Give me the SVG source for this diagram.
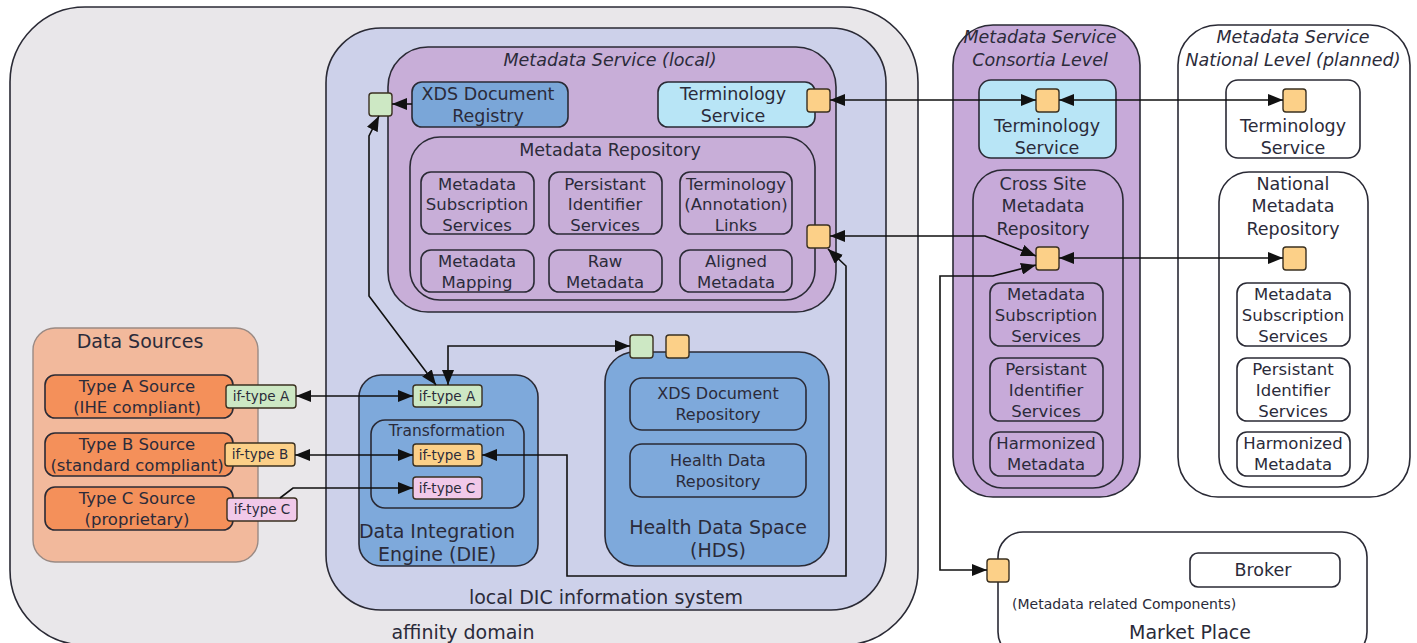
<svg xmlns="http://www.w3.org/2000/svg" width="1417" height="643" viewBox="0 0 1417 643">
<defs>
<marker id="ah" viewBox="0 0 15 12" refX="15" refY="6" markerWidth="15" markerHeight="12" markerUnits="userSpaceOnUse" orient="auto-start-reverse"><path d="M0,0 L15,6 L0,12 z" fill="#111"/></marker>
<style>
.b{stroke:#2a2a35;stroke-width:1.6}
.t{font-family:"DejaVu Sans",sans-serif;fill:#2b2b3a;text-anchor:middle}
.it{font-style:italic}
.c{fill:none;stroke:#111;stroke-width:1.6}
.port{stroke:#3a3020;stroke-width:1.4}
.or{fill:#fcd088}
.gr{fill:#cde8c4}
.pk{fill:#f1c9e9}
.item{fill:none}
.s{font-size:16.5px}
.m{font-size:17.5px}
.l{font-size:19px}
.p{font-size:13.5px}
</style>
</defs>

<g id="affinity-domain">
<rect class="b" x="10" y="7" width="908" height="638" rx="75" fill="#e9e7ea"/>
<text class="t l" x="463" y="639">affinity domain</text>
</g>

<g id="local-dic">
<rect class="b" x="326" y="28" width="560" height="582" rx="55" fill="#cdd1ea"/>
<text class="t l" x="606" y="604">local DIC information system</text>
</g>

<g id="metadata-service-local">
<rect class="b" x="388" y="47" width="448" height="265" rx="40" fill="#c8aed8"/>
<text class="t it m" x="610" y="66">Metadata Service (local)</text>
</g>

<g id="xds-registry">
<rect class="b" x="412" y="82" width="156" height="45" rx="10" fill="#7aa6d8"/>
<text class="t m" x="488" y="100">XDS Document</text>
<text class="t m" x="488" y="122">Registry</text>
</g>
<g id="xds-registry-port"><rect class="port gr" x="369" y="93" width="23" height="23" rx="3"/></g>

<g id="terminology-local">
<rect class="b" x="658" y="82" width="157" height="45" rx="10" fill="#b8e5f6"/>
<text class="t m" x="733" y="100">Terminology</text>
<text class="t m" x="733" y="122">Service</text>
</g>
<g id="terminology-local-port"><rect class="port or" x="807" y="89" width="23" height="23" rx="3"/></g>

<g id="metadata-repository">
<rect class="b" x="410" y="137" width="405" height="163" rx="30" fill="#c8aed8"/>
<text class="t m" x="610" y="156">Metadata Repository</text>
</g>
<g id="mr-subscription">
<rect class="b item" x="421" y="172" width="113" height="62" rx="10"/>
<text class="t s" x="477" y="190">Metadata</text>
<text class="t s" x="477" y="210">Subscription</text>
<text class="t s" x="477" y="231">Services</text>
</g>
<g id="mr-persistant">
<rect class="b item" x="549" y="172" width="113" height="62" rx="10"/>
<text class="t s" x="605" y="190">Persistant</text>
<text class="t s" x="605" y="210">Identifier</text>
<text class="t s" x="605" y="231">Services</text>
</g>
<g id="mr-terminology-links">
<rect class="b item" x="680" y="172" width="112" height="62" rx="10"/>
<text class="t s" x="736" y="190">Terminology</text>
<text class="t s" x="736" y="210">(Annotation)</text>
<text class="t s" x="736" y="231">Links</text>
</g>
<g id="mr-mapping">
<rect class="b item" x="421" y="250" width="113" height="42" rx="10"/>
<text class="t s" x="477" y="267">Metadata</text>
<text class="t s" x="477" y="288">Mapping</text>
</g>
<g id="mr-raw">
<rect class="b item" x="549" y="250" width="113" height="42" rx="10"/>
<text class="t s" x="605" y="267">Raw</text>
<text class="t s" x="605" y="288">Metadata</text>
</g>
<g id="mr-aligned">
<rect class="b item" x="680" y="250" width="112" height="42" rx="10"/>
<text class="t s" x="736" y="267">Aligned</text>
<text class="t s" x="736" y="288">Metadata</text>
</g>
<g id="metadata-repository-port"><rect class="port or" x="807" y="225" width="23" height="23" rx="3"/></g>

<g id="data-sources">
<rect x="33" y="328" width="225" height="234" rx="22" fill="#f2b99c" stroke="#9a8a84" stroke-width="1.4"/>
<text class="t l" x="140" y="348">Data Sources</text>
</g>
<g id="type-a-source">
<rect class="b" x="45" y="375" width="188" height="43" rx="10" fill="#f4905a"/>
<text class="t s" x="137" y="392">Type A Source</text>
<text class="t s" x="137" y="413">(IHE compliant)</text>
</g>
<g id="type-b-source">
<rect class="b" x="45" y="433" width="188" height="43" rx="10" fill="#f4905a"/>
<text class="t s" x="137" y="450">Type B Source</text>
<text class="t s" x="137" y="471">(standard compliant)</text>
</g>
<g id="type-c-source">
<rect class="b" x="45" y="487" width="188" height="43" rx="10" fill="#f4905a"/>
<text class="t s" x="137" y="504">Type C Source</text>
<text class="t s" x="137" y="525">(proprietary)</text>
</g>
<g id="ds-if-type-a">
<rect class="port gr" x="226" y="385" width="70" height="23" rx="3"/>
<text class="t p" x="261" y="401">if-type A</text>
</g>
<g id="ds-if-type-b">
<rect class="port or" x="225" y="443" width="70" height="23" rx="3"/>
<text class="t p" x="260" y="459">if-type B</text>
</g>
<g id="ds-if-type-c">
<rect class="port pk" x="227" y="498" width="70" height="23" rx="3"/>
<text class="t p" x="262" y="514">if-type C</text>
</g>

<g id="die">
<rect class="b" x="359" y="375" width="179" height="191" rx="22" fill="#7ea9db"/>
<text class="t l" x="437" y="538">Data Integration</text>
<text class="t l" x="437" y="561">Engine (DIE)</text>
</g>
<g id="die-if-type-a">
<rect class="port gr" x="413" y="385" width="69" height="22" rx="3"/>
<text class="t p" x="447" y="401">if-type A</text>
</g>
<g id="transformation">
<rect class="b" x="371" y="420" width="153" height="88" rx="14" fill="none"/>
<text class="t" x="447" y="436" font-size="15.5">Transformation</text>
</g>
<g id="die-if-type-b">
<rect class="port or" x="413" y="444" width="69" height="22" rx="3"/>
<text class="t p" x="447" y="460">if-type B</text>
</g>
<g id="die-if-type-c">
<rect class="port pk" x="413" y="477" width="69" height="22" rx="3"/>
<text class="t p" x="447" y="493">if-type C</text>
</g>

<g id="hds">
<rect class="b" x="605" y="352" width="224" height="214" rx="30" fill="#7ea9db"/>
<text class="t l" x="718" y="534">Health Data Space</text>
<text class="t l" x="718" y="557">(HDS)</text>
</g>
<g id="xds-repository">
<rect class="b item" x="630" y="378" width="176" height="52" rx="12"/>
<text class="t" x="718" y="399" font-size="16">XDS Document</text>
<text class="t" x="718" y="420" font-size="16">Repository</text>
</g>
<g id="health-data-repository">
<rect class="b item" x="630" y="444" width="176" height="53" rx="12"/>
<text class="t" x="718" y="466" font-size="16">Health Data</text>
<text class="t" x="718" y="487" font-size="16">Repository</text>
</g>
<g id="hds-ports">
<rect class="port gr" x="630" y="335" width="23" height="23" rx="3"/>
<rect class="port or" x="666" y="335" width="23" height="23" rx="3"/>
</g>

<g id="metadata-service-consortia">
<rect class="b" x="953" y="25" width="187" height="472" rx="40" fill="#c7aad9"/>
<text class="t it m" x="1040" y="43">Metadata Service</text>
<text class="t it m" x="1040" y="66">Consortia Level</text>
</g>
<g id="terminology-consortia">
<rect class="b" x="979" y="80" width="137" height="78" rx="12" fill="#b8e5f6"/>
<text class="t m" x="1047" y="132">Terminology</text>
<text class="t m" x="1047" y="154">Service</text>
<rect class="port or" x="1036" y="89" width="23" height="23" rx="3"/>
</g>
<g id="cross-site-repository">
<rect class="b" x="973" y="170" width="150" height="318" rx="30" fill="none"/>
<text class="t m" x="1043" y="190">Cross Site</text>
<text class="t m" x="1043" y="212">Metadata</text>
<text class="t m" x="1043" y="235">Repository</text>
<rect class="port or" x="1036" y="247" width="23" height="23" rx="3"/>
</g>
<g id="cs-subscription">
<rect class="b item" x="990" y="283" width="113" height="63" rx="10"/>
<text class="t s" x="1046" y="300">Metadata</text>
<text class="t s" x="1046" y="321">Subscription</text>
<text class="t s" x="1046" y="342">Services</text>
</g>
<g id="cs-persistant">
<rect class="b item" x="990" y="358" width="113" height="63" rx="10"/>
<text class="t s" x="1046" y="375">Persistant</text>
<text class="t s" x="1046" y="396">Identifier</text>
<text class="t s" x="1046" y="417">Services</text>
</g>
<g id="cs-harmonized">
<rect class="b item" x="990" y="432" width="113" height="44" rx="10"/>
<text class="t s" x="1046" y="449">Harmonized</text>
<text class="t s" x="1046" y="470">Metadata</text>
</g>

<g id="metadata-service-national">
<rect class="b" x="1178" y="25" width="232" height="472" rx="40" fill="#ffffff"/>
<text class="t it m" x="1293" y="43">Metadata Service</text>
<text class="t it m" x="1293" y="66">National Level (planned)</text>
</g>
<g id="terminology-national">
<rect class="b" x="1226" y="80" width="134" height="78" rx="12" fill="#ffffff"/>
<text class="t m" x="1293" y="132">Terminology</text>
<text class="t m" x="1293" y="154">Service</text>
<rect class="port or" x="1283" y="89" width="23" height="23" rx="3"/>
</g>
<g id="national-repository">
<rect class="b" x="1219" y="172" width="149" height="315" rx="30" fill="none"/>
<text class="t m" x="1293" y="190">National</text>
<text class="t m" x="1293" y="212">Metadata</text>
<text class="t m" x="1293" y="235">Repository</text>
<rect class="port or" x="1283" y="247" width="23" height="23" rx="3"/>
</g>
<g id="nat-subscription">
<rect class="b item" x="1237" y="283" width="113" height="63" rx="10"/>
<text class="t s" x="1293" y="300">Metadata</text>
<text class="t s" x="1293" y="321">Subscription</text>
<text class="t s" x="1293" y="342">Services</text>
</g>
<g id="nat-persistant">
<rect class="b item" x="1237" y="358" width="113" height="63" rx="10"/>
<text class="t s" x="1293" y="375">Persistant</text>
<text class="t s" x="1293" y="396">Identifier</text>
<text class="t s" x="1293" y="417">Services</text>
</g>
<g id="nat-harmonized">
<rect class="b item" x="1237" y="432" width="113" height="44" rx="10"/>
<text class="t s" x="1293" y="449">Harmonized</text>
<text class="t s" x="1293" y="470">Metadata</text>
</g>

<g id="market-place">
<rect class="b" x="998" y="532" width="369" height="125" rx="25" fill="#ffffff"/>
<text class="t" x="1012" y="609" font-size="14" style="text-anchor:start">(Metadata related Components)</text>
<text class="t l" x="1190" y="639">Market Place</text>
<rect class="port or" x="987" y="559" width="22" height="23" rx="3"/>
</g>
<g id="broker">
<rect class="b" x="1190" y="553" width="150" height="34" rx="8" fill="#ffffff"/>
<text class="t m" x="1263" y="576">Broker</text>
</g>

<g id="connectors">
<path class="c" d="M830,100 L1036,100" marker-start="url(#ah)" marker-end="url(#ah)"/>
<path class="c" d="M1059,100 L1283,100" marker-start="url(#ah)" marker-end="url(#ah)"/>
<path class="c" d="M830,236 L985,236 L1036,256" marker-start="url(#ah)" marker-end="url(#ah)"/>
<path class="c" d="M1036,265 L993,276 L940,276 L940,570 L987,570" marker-start="url(#ah)" marker-end="url(#ah)"/>
<path class="c" d="M1059,258 L1283,258" marker-start="url(#ah)" marker-end="url(#ah)"/>
<path class="c" d="M828,249 L846,266 L846,576 L567,576 L567,455 L482,455" marker-start="url(#ah)" marker-end="url(#ah)"/>
<path class="c" d="M379,116 L369,136 L369,296 L436,385" marker-start="url(#ah)" marker-end="url(#ah)"/>
<path class="c" d="M448,385 L448,346 L630,346" marker-start="url(#ah)" marker-end="url(#ah)"/>
<path class="c" d="M296,396 L413,396" marker-start="url(#ah)" marker-end="url(#ah)"/>
<path class="c" d="M295,455 L413,455" marker-start="url(#ah)" marker-end="url(#ah)"/>
<path class="c" d="M280,498 L293,488 L413,488" marker-end="url(#ah)"/>
<path class="c" d="M392,104 L412,104" marker-start="url(#ah)"/>
</g>
</svg>
